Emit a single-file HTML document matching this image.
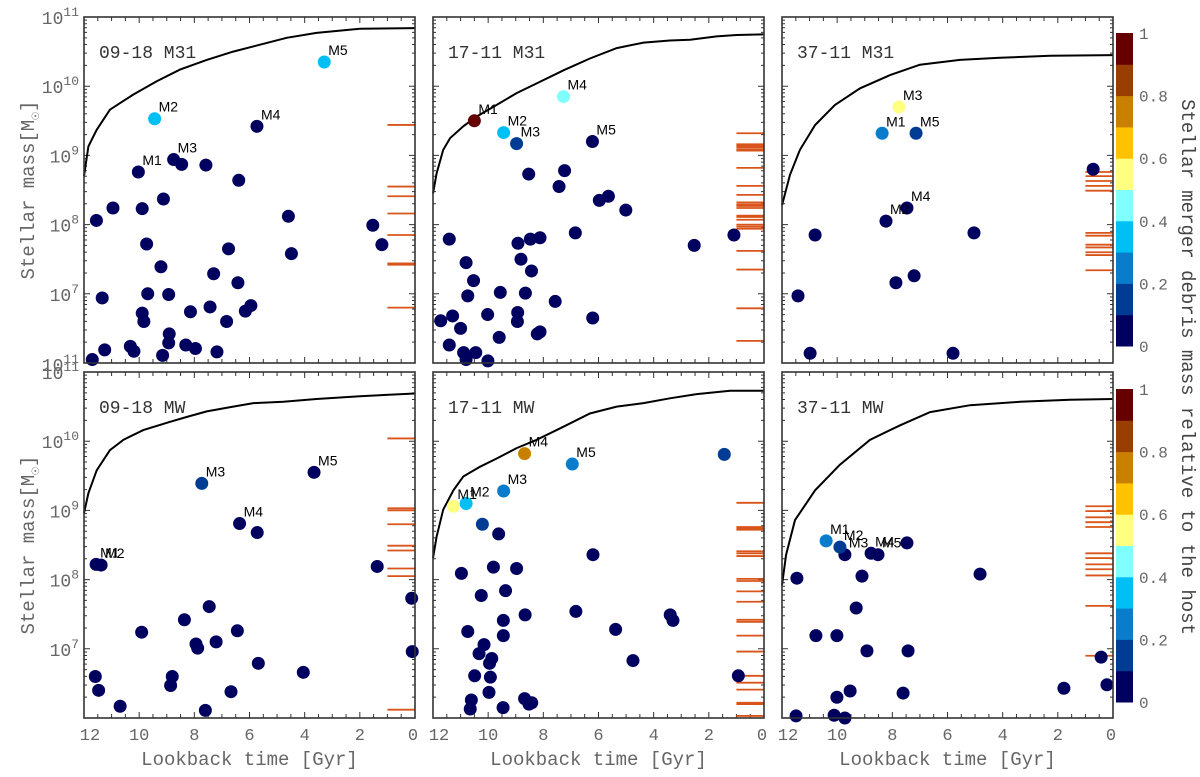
<!DOCTYPE html>
<html><head><meta charset="utf-8"><style>
html,body{margin:0;padding:0;background:#fff;}
svg{display:block;}
</style></head><body>
<svg id="chart" width="1200" height="777" viewBox="0 0 1200 777" xmlns="http://www.w3.org/2000/svg"></svg>
<script>
// ---- Data (time in Gyr lookback, logMass = log10 stellar mass, frac = debris mass fraction) ----
const p1Time=[10.03,9.44,8.75,5.73,3.29,8.46,7.58,6.39,11.55,10.95,9.89,9.12,4.59,1.53,1.20,9.73,6.76,4.48,9.21,7.30,6.42,11.34,9.69,8.93,9.89,9.83,8.14,7.43,6.15,5.95,6.83,8.91,8.93,11.25,10.32,10.19,8.31,7.96,7.18,9.15,11.70];
const p1LogMass=[8.76,9.53,8.94,9.42,10.35,8.87,8.86,8.64,8.06,8.24,8.23,8.37,8.12,7.99,7.71,7.72,7.65,7.58,7.39,7.29,7.16,6.94,7.00,6.99,6.72,6.60,6.74,6.81,6.75,6.83,6.60,6.42,6.29,6.19,6.24,6.17,6.26,6.21,6.16,6.11,6.05];
const p1Frac=[0.05,0.35,0.05,0.05,0.35];
const p1CurveT=[12,11.84,11.54,11.06,10.21,9.37,8.52,7.55,6.59,5.62,4.65,3.57,2.0,0];
const p1CurveM=[8.70,9.13,9.37,9.66,9.88,10.07,10.24,10.38,10.50,10.60,10.70,10.77,10.83,10.84];
const p1Rug=[9.44,8.55,8.41,8.16,7.85,7.44,7.42,6.80];

const p2Time=[10.50,9.44,8.97,7.27,6.22,8.53,7.23,7.43,5.97,5.64,5.01,11.41,8.92,8.47,8.12,6.84,2.53,1.09,10.80,8.81,8.43,10.53,10.74,9.56,8.65,7.57,8.93,8.94,10.02,11.72,11.29,11.0,6.21,9.60,8.22,8.12,11.41,10.89,10.45,10.80,10.01];
const p2LogMass=[9.50,9.33,9.17,9.85,9.20,8.73,8.78,8.55,8.35,8.41,8.21,7.79,7.73,7.79,7.81,7.88,7.70,7.85,7.45,7.50,7.33,7.19,6.97,7.02,7.01,6.89,6.73,6.60,6.70,6.61,6.68,6.50,6.65,6.37,6.42,6.45,6.26,6.15,6.15,6.05,6.03];
const p2Frac=[0.95,0.35,0.15,0.45,0.05];
const p2CurveT=[12,11.87,11.63,11.38,10.90,10.42,9.69,8.97,8.24,7.27,6.31,5.34,4.37,3.41,2.68,1.72,0.99,0];
const p2CurveM=[8.45,8.74,9.08,9.25,9.42,9.56,9.73,9.90,10.04,10.23,10.40,10.55,10.63,10.66,10.67,10.72,10.74,10.75];
const p2Rug=[9.32,9.16,9.14,9.12,9.09,9.07,8.82,8.56,8.43,8.32,8.29,8.27,8.24,8.13,8.11,8.07,8.0,7.97,7.94,7.62,7.35,6.79,6.32];

const p3Time=[8.37,8.23,7.76,7.47,7.14,0.72,10.80,5.04,7.21,7.87,11.42,10.98,5.80];
const p3LogMass=[9.32,8.05,9.70,8.24,9.32,8.80,7.85,7.88,7.26,7.16,6.97,6.14,6.14];
const p3Frac=[0.25,0.05,0.55,0.05,0.15];
const p3CurveT=[12,11.71,11.35,10.80,10.08,9.17,8.08,7.0,5.55,4.1,2.28,0];
const p3CurveM=[8.28,8.72,9.08,9.44,9.73,9.97,10.16,10.31,10.38,10.41,10.44,10.45];
const p3Rug=[8.76,8.70,8.63,8.56,8.49,7.88,7.84,7.71,7.67,7.60,7.56,7.34];

const p4Time=[11.56,11.38,7.73,6.36,3.66,5.72,1.37,0.12,0.10,7.46,8.36,9.91,6.44,7.94,7.88,7.21,5.68,4.05,11.59,11.47,8.80,8.86,10.69,6.67,7.60];
const p4LogMass=[8.22,8.21,9.39,8.81,9.55,8.68,8.19,7.73,6.96,7.61,7.42,7.24,7.26,7.07,7.01,7.10,6.79,6.66,6.60,6.40,6.60,6.47,6.17,6.38,6.11];
const p4Frac=[0.05,0.05,0.15,0.05,0.05];
const p4CurveT=[12,11.84,11.54,11.06,10.57,9.85,8.88,8.28,7.55,6.59,5.86,4.77,3.57,2.0,0];
const p4CurveM=[8.96,9.25,9.58,9.87,10.02,10.16,10.28,10.35,10.43,10.50,10.55,10.57,10.61,10.65,10.69];
const p4Rug=[10.04,9.03,9.00,8.80,8.49,8.42,8.16,8.05,6.12];

const p5Time=[11.26,10.80,9.44,8.68,6.95,1.44,10.21,9.62,6.20,10.97,9.81,8.97,10.25,9.37,6.82,8.66,9.45,10.74,9.45,3.40,3.30,5.38,10.15,10.33,9.87,9.95,4.75,10.49,9.92,0.93,9.97,10.61,10.65,9.46,8.68,8.52,8.42];
const p5LogMass=[9.06,9.10,9.28,9.82,9.67,9.81,8.80,8.66,8.36,8.09,8.18,8.16,7.77,7.84,7.54,7.49,7.41,7.25,7.19,7.49,7.41,7.28,7.06,6.93,6.86,6.79,6.83,6.61,6.59,6.61,6.37,6.26,6.13,6.15,6.28,6.20,6.22];
const p5Frac=[0.55,0.35,0.25,0.75,0.25,0.15,0.15];
const p5CurveT=[12,11.87,11.63,11.26,10.90,10.30,9.69,8.97,8.24,7.27,6.31,5.34,4.37,3.41,2.44,1.23,0];
const p5CurveM=[8.31,8.62,9.01,9.29,9.49,9.63,9.75,9.90,10.02,10.21,10.40,10.50,10.55,10.62,10.68,10.73,10.73];
const p5Rug=[9.11,8.76,8.74,8.72,8.41,8.38,8.34,8.01,7.98,7.83,7.68,7.42,7.39,7.19,6.96,6.61,6.51,6.41,6.22,6.20,6.03];

const p6Time=[10.40,9.90,9.72,8.77,8.52,7.47,9.10,11.46,4.82,9.31,10.77,10.01,7.43,8.92,0.43,0.22,10.01,9.53,10.11,7.61,1.78,9.72,11.49];
const p6LogMass=[8.56,8.47,8.36,8.38,8.36,8.53,8.05,8.02,8.08,7.59,7.19,7.19,6.97,6.97,6.88,6.48,6.30,6.39,6.04,6.36,6.43,6.00,6.03];
const p6Frac=[0.25,0.15,0.05,0.05,0.05];
const p6CurveT=[12,11.85,11.53,10.80,9.90,8.81,7.72,6.63,5.18,3.37,1.56,0];
const p6CurveM=[7.92,8.36,8.86,9.29,9.66,10.02,10.23,10.42,10.52,10.57,10.60,10.61];
const p6Rug=[9.06,8.99,8.90,8.83,8.76,8.38,8.31,8.22,8.15,8.06,7.62,6.90];

const markerLabels=["M1","M2","M3","M4","M5"];
const panelTitles=["09-18 M31","17-11 M31","37-11 M31","09-18 MW","17-11 MW","37-11 MW"];
const xTicks=[12,10,8,6,4,2,0];
const yTicks=[7,8,9,10,11];
const cbTicks=["0","0.2","0.4","0.6","0.8","1"];
const cbColors=["#00005f","#003b94","#0a7ccc","#00bff5","#80ffff","#ffff80","#ffc200","#c98000","#9a3d00","#660000"];

const NS="http://www.w3.org/2000/svg";
const svg=document.getElementById('chart');
function mk(tag,attrs,parent){const e=document.createElementNS(NS,tag);for(const k in attrs)e.setAttribute(k,attrs[k]);(parent||svg).appendChild(e);return e;}
const W=331,H=346;
const lefts=[84,433,782], tops=[17,372];
const panels=[
 {t:p1Time,m:p1LogMass,f:p1Frac,ct:p1CurveT,cm:p1CurveM,r:p1Rug},
 {t:p2Time,m:p2LogMass,f:p2Frac,ct:p2CurveT,cm:p2CurveM,r:p2Rug},
 {t:p3Time,m:p3LogMass,f:p3Frac,ct:p3CurveT,cm:p3CurveM,r:p3Rug},
 {t:p4Time,m:p4LogMass,f:p4Frac,ct:p4CurveT,cm:p4CurveM,r:p4Rug},
 {t:p5Time,m:p5LogMass,f:p5Frac,ct:p5CurveT,cm:p5CurveM,r:p5Rug},
 {t:p6Time,m:p6LogMass,f:p6Frac,ct:p6CurveT,cm:p6CurveM,r:p6Rug}];
function colorOf(v){return cbColors[Math.min(9,Math.max(0,Math.floor(v*10)))];}

panels.forEach((p,i)=>{
 const L=lefts[i%3],T=tops[Math.floor(i/3)];
 const xs=t=>L+(12-t)/12*W;
 const ys=lm=>T+(11-lm)/5*H;
 const g=mk('g',{});
 
 
 let tk='';
 for(let t=0;t<=12;t+=0.5){const x=xs(t),len=(t%2===0)?6:4;tk+=`M${x},${T+H}v${-len}M${x},${T}v${len}`;}
 for(let d=6;d<11;d++){for(let k=1;k<10;k++){const y=ys(d+Math.log10(k));const len=k===1?6:3;tk+=`M${L},${y}h${len}M${L+W},${y}h${-len}`;}}
 mk('path',{d:tk,stroke:'#333','stroke-width':1,fill:'none'},g);
 p.r.forEach(v=>{const y=ys(v);const r=mk('line',{x1:xs(1.0),x2:L+W,y1:y,y2:y,stroke:'#d9541a','stroke-width':1.8},g);
  
  });
 const cp=mk('path',{d:p.ct.map((t,k)=>(k?'L':'M')+xs(t).toFixed(1)+','+ys(p.cm[k]).toFixed(1)).join(''),stroke:'#000','stroke-width':2,fill:'none'},g);
 
 
 for(let k=p.t.length-1;k>=0;k--){
  const c=mk('circle',{cx:xs(p.t[k]),cy:ys(p.m[k]),r:6.5,fill:colorOf(k<p.f.length?p.f[k]:0.05)},g);
  
  
 }
 for(let k=0;k<5;k++){
  const tx=mk('text',{x:xs(p.t[k])+4,y:ys(p.m[k])-7,'font-family':'Liberation Sans, sans-serif','font-size':14,fill:'#000'},g);
  tx.textContent=markerLabels[k];
  
  
 }
 mk('rect',{x:L,y:T,width:W,height:H,fill:'none',stroke:'#333','stroke-width':1.6},g);
 const tt=mk('text',{x:L+15,y:T+41,'font-family':'Liberation Mono, monospace','font-size':18,fill:'#333'},g);
 tt.textContent=panelTitles[i];
 
 
 if(i%3===0){
  yTicks.forEach(d=>{const te=mk('text',{x:L-5,y:ys(d)+7,'text-anchor':'end','font-family':'Liberation Mono, monospace','font-size':18,fill:'#666'},g);
   te.innerHTML='10<tspan dy="-8" font-size="13">'+d+'</tspan>';
   
   });
  if(i===0){const te=mk('text',{x:L-5,y:T+H+8,'text-anchor':'end','font-family':'Liberation Mono, monospace','font-size':18,fill:'#666'},g);
   te.innerHTML='10<tspan dy="-8" font-size="13">11</tspan>';
   
   }
  const yt=mk('text',{transform:`translate(${L-50},${T+H/2}) rotate(-90)`,'text-anchor':'middle','font-family':'Liberation Mono, monospace','font-size':19,fill:'#666'},g);
  yt.innerHTML='Stellar mass[M<tspan dy="5" font-size="13">☉</tspan><tspan dy="-5">]</tspan>';
  
  
 }
 if(i>=3){
  xTicks.forEach(t=>{const te=mk('text',{x:xs(t)+(t===12?6:(t===0?-2:0)),y:T+H+22,'text-anchor':'middle','font-family':'Liberation Mono, monospace','font-size':17,fill:'#666'},g);
   te.textContent=t;
   
   });
  const xt=mk('text',{x:L+W/2,y:T+H+47,'text-anchor':'middle','font-family':'Liberation Mono, monospace','font-size':19,fill:'#666'},g);
  xt.textContent='Lookback time [Gyr]';
  
  
 }
});

[[33,346],[389,702]].forEach(([y0,y1],ci)=>{
 const g=mk('g',{});
 
 
 const h=(y1-y0)/10;
 cbColors.forEach((c,k)=>{mk('rect',{x:1116,y:y1-(k+1)*h,width:17,height:h+0.5,fill:c},g);});
 cbTicks.forEach((s,k)=>{const te=mk('text',{x:1139,y:y1-k*2*h+6,'font-family':'Liberation Mono, monospace','font-size':16,fill:'#666'},g);
  te.textContent=s;
  
  });
});
const ct=mk('text',{transform:'translate(1182,367) rotate(90)','text-anchor':'middle','font-family':'Liberation Mono, monospace','font-size':19,fill:'#444'});
ct.textContent='Stellar merger debris mass relative to the host';


</script>
</body></html>
